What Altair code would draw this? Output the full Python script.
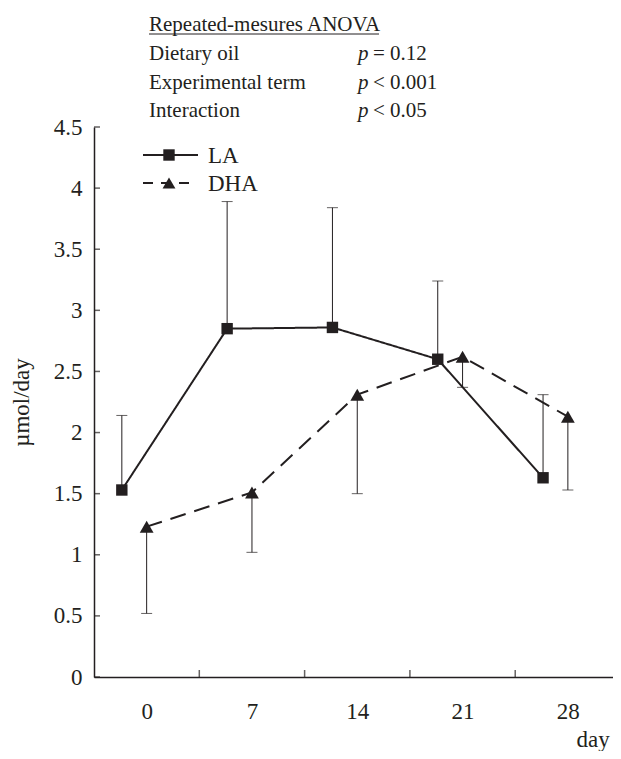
import altair as alt
import pandas as pd

# ---- data ----
days = [0, 7, 14, 21, 28]
groups = ["LA", "DHA"]
la_mean = [1.53, 2.85, 2.86, 2.60, 1.63]
la_err_end = [2.14, 3.89, 3.84, 3.24, 2.31]      # upper error bar ends
dha_mean = [1.23, 1.51, 2.31, 2.62, 2.13]
dha_err_end = [0.52, 1.02, 1.50, 2.37, 1.53]     # lower error bar ends
y_ticks = [0, 0.5, 1, 1.5, 2, 2.5, 3, 3.5, 4, 4.5]

anova_title = "Repeated-mesures ANOVA"
anova_terms = ["Dietary oil", "Experimental term", "Interaction"]
anova_p = ["= 0.12", "< 0.001", "< 0.05"]

FONT = "Liberation Serif"
INK = "#231f20"
LA_SHIFT = 1.65  # horizontal shift of LA series (days) so the groups sit side by side

rows = []
for g, means, ends in [("LA", la_mean, la_err_end), ("DHA", dha_mean, dha_err_end)]:
    for d, m, e in zip(days, means, ends):
        rows.append({"group": g, "day": d, "mean": m, "err": e})
df = pd.DataFrame(rows)

W, H = 519, 550
xscale = alt.Scale(domain=[-3.5, 31.0], nice=False, zero=False)
yscale = alt.Scale(domain=[0, 4.5], nice=False, zero=True)

base = alt.Chart(df).transform_calculate(
    xpos=f"datum.day - (datum.group == 'LA' ? {LA_SHIFT} : 0)"
)

x_axis = alt.Axis(values=days, ticks=False, grid=False, labelPadding=23,
                  labelFont=FONT, labelFontSize=23, labelColor=INK,
                  labelExpr="'' + datum.value",
                  domainColor=INK, domainWidth=1.5,
                  title="day", titleFont=FONT, titleFontSize=23, titleFontWeight="normal",
                  titleColor=INK, titleAnchor="start", titleAlign="left",
                  titleBaseline="alphabetic", titleX=482, titleY=69)
y_axis = alt.Axis(values=y_ticks, ticks=False, grid=False, labelPadding=12,
                  labelFont=FONT, labelFontSize=23, labelColor=INK,
                  labelExpr="'' + datum.value",
                  domainColor=INK, domainWidth=1.5,
                  title="µmol/day", titleFont=FONT, titleFontSize=23, titleFontWeight="normal",
                  titleColor=INK, titlePadding=20)

X = alt.X("xpos:Q", scale=xscale, axis=x_axis, title="day")
Y = alt.Y("mean:Q", scale=yscale, axis=y_axis, title="µmol/day")

dash_scale = alt.Scale(domain=groups, range=[[1, 0], [16, 9]])
shape_scale = alt.Scale(domain=groups, range=["square", "triangle-up"])
size_scale = alt.Scale(domain=groups, range=[130, 190])

lines = base.mark_line(color=INK, strokeWidth=2).encode(
    x=X, y=Y,
    detail="group:N",
    strokeDash=alt.StrokeDash("group:N", scale=dash_scale, legend=None),
)
err_rules = base.mark_rule(color=INK, strokeWidth=1).encode(
    x=X, y=Y, y2="err:Q",
)
err_caps = base.mark_tick(color=INK, orient="horizontal", size=11, thickness=1).encode(
    x=X, y=alt.Y("err:Q", scale=yscale, axis=y_axis, title="µmol/day"),
)
points = base.mark_point(filled=True, opacity=1, color=INK).encode(
    x=X, y=Y,
    shape=alt.Shape("group:N", scale=shape_scale, legend=None),
    size=alt.Size("group:N", scale=size_scale, legend=None),
)

# inward axis tick marks
yt = alt.Chart(pd.DataFrame({"v": y_ticks})).mark_tick(
    color=INK, orient="horizontal", size=6, thickness=1.5
).encode(y=alt.Y("v:Q", scale=yscale, axis=y_axis, title="µmol/day"), x=alt.value(3))
xt = alt.Chart(pd.DataFrame({"b": [d + 3.5 for d in days[:-1]]})).mark_tick(
    color=INK, orient="vertical", size=7, thickness=1.5
).encode(x=alt.X("b:Q", scale=xscale, axis=x_axis, title="day"), y=alt.value(H - 3.5))

# legend (drawn inside the plot, top-left)
one = pd.DataFrame({"k": [0]})
leg = []
leg_rows = [("LA", 28, [1, 0], "square", 130, 104), ("DHA", 56, [10, 8], "triangle-up", 165, 95)]
for name, ly, dash, shp, sz, xend in leg_rows:
    leg.append(alt.Chart(one).mark_rule(color=INK, strokeWidth=2, strokeDash=dash).encode(
        x=alt.value(49), x2=alt.value(xend), y=alt.value(ly)))
    leg.append(alt.Chart(one).mark_point(filled=True, opacity=1, color=INK, shape=shp, size=sz).encode(
        x=alt.value(75), y=alt.value(ly)))
    leg.append(alt.Chart(one).mark_text(font=FONT, fontSize=23, color=INK, align="left",
                                        baseline="middle", text=name).encode(
        x=alt.value(114), y=alt.value(ly + 1)))

# ANOVA annotation above the plot
ann = []
ann.append(alt.Chart(one).mark_text(font=FONT, fontSize=21, color=INK, align="left",
                                    baseline="alphabetic", text=anova_title).encode(
    x=alt.value(55), y=alt.value(-96)))
ann.append(alt.Chart(one).mark_rule(color=INK, strokeWidth=1).encode(
    x=alt.value(55), x2=alt.value(285), y=alt.value(-93)))
for i, (term, pv) in enumerate(zip(anova_terms, anova_p)):
    yy = -67 + i * 28.5
    ann.append(alt.Chart(one).mark_text(font=FONT, fontSize=21, color=INK, align="left",
                                        baseline="alphabetic", text=term).encode(
        x=alt.value(55), y=alt.value(yy)))
    ann.append(alt.Chart(one).mark_text(font=FONT, fontSize=21, color=INK, align="left",
                                        baseline="alphabetic", fontStyle="italic", text="p").encode(
        x=alt.value(264), y=alt.value(yy)))
    ann.append(alt.Chart(one).mark_text(font=FONT, fontSize=21, color=INK, align="left",
                                        baseline="alphabetic", text=pv).encode(
        x=alt.value(279), y=alt.value(yy)))

chart = alt.layer(
    lines, err_rules, err_caps, points, yt, xt, *leg, *ann
).properties(
    width=W, height=H,
    autosize="none",
    padding={"left": 86, "top": 119, "right": 0, "bottom": 74},
    background="white",
).configure_view(stroke=None)

chart.save("out.html", embed_options={"renderer": "svg", "actions": False})
